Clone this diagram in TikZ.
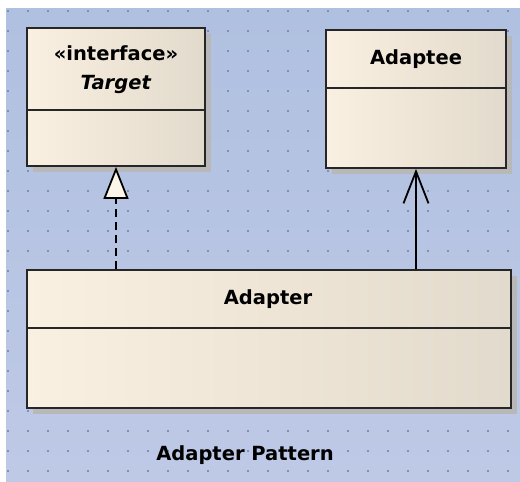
\documentclass[tikz,border=0pt]{standalone}
\usepackage{fontspec}
\setmainfont{DejaVu Sans}
\usetikzlibrary{arrows.meta,shadows}
\definecolor{canvastop}{RGB}{176,192,224}
\definecolor{canvasbot}{RGB}{190,201,230}
\definecolor{gridpt}{RGB}{128,143,182}
\definecolor{creamleft}{RGB}{250,240,225}
\definecolor{creamright}{RGB}{226,218,204}
\definecolor{tipfill}{RGB}{252,246,232}
\begin{document}
\begin{tikzpicture}[x=1pt,y=-1pt,
    class/.style={draw=black!85,line width=1.8pt,left color=creamleft,right color=creamright,
        drop shadow={shadow xshift=6pt,shadow yshift=-6pt,fill=black!28,opacity=1},
        minimum height=138pt,inner sep=0pt},
    classtitle/.style={font=\bfseries\fontsize{19.5}{29}\selectfont,align=center},
    realize/.style={line width=1.8pt,dash pattern=on 8pt off 5pt,
        -{Triangle[open,fill=tipfill,length=32pt,width=25pt]}},
    assoc/.style={line width=1.8pt,-{Straight Barb[length=32pt,width=25pt]}},]
    \useasboundingbox[fill=white] (0,0) rectangle (520,482);
    \begin{scope}
    \shade[top color=canvastop,bottom color=canvasbot] (6,8) rectangle (520,481);
    \foreach \x in {7,27,...,507}
        \foreach \y in {10,30,...,470}
            \fill[gridpt] (\x,\y) rectangle +(1.6,1.6);
    \end{scope}
    % classes
    \node[class,minimum width=178pt] (target) at (116,97) {};
    \node[class,minimum width=180pt] (adaptee) at (416,99) {};
    \node[class,minimum width=484pt] (adapter) at (269,339) {};
    \draw[line width=1.8pt,black!85] (target.west |- 0,110) -- (target.east |- 0,110);
    \draw[line width=1.8pt,black!85] (adaptee.west |- 0,88) -- (adaptee.east |- 0,88);
    \draw[line width=1.8pt,black!85] (adapter.west |- 0,328) -- (adapter.east |- 0,328);
    \node[classtitle] (target name) at (116,70) {«interface»\\\textit{Target}};
    \node[classtitle] (adaptee name) at (416,59) {Adaptee};
    \node[classtitle] (adapter name) at (268,299) {Adapter};
    % relations
    \draw[realize] (adapter.north -| target.south) -- (target.south);
    \draw[assoc] (adapter.north -| adaptee.south) -- (adaptee.south);
    \node[classtitle] (caption) at (245,455) {Adapter Pattern};
\end{tikzpicture}
\end{document}
